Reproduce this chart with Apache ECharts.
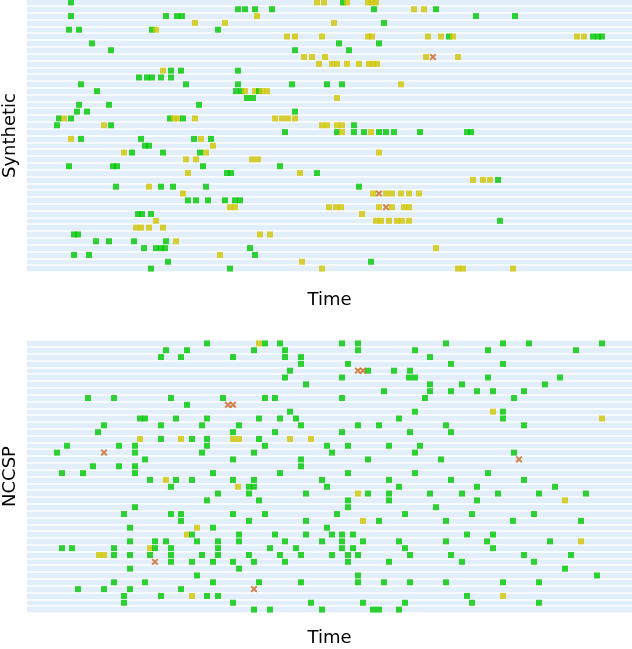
<!DOCTYPE html>
<html><head><meta charset="utf-8">
<script src="https://cdn.jsdelivr.net/npm/echarts@6/dist/echarts.min.js"></script>
<style>html,body{margin:0;padding:0;background:#fff}#c{width:632px;height:649px}</style>
</head><body><div id="c"></div>
<script>
const panelNames = ['Synthetic', 'NCCSP'];
const axisTitle = 'Time';
const rowCount = 40;

// Synthetic panel: one list of event times per row (row 0 at top)
const synGreen = [
  [44,316],[211,218,228,245,347,409],[44,139,150,155,449,488],[357],[42,52,125,191],
  [422,566,571,575],[65,312,352],[84,268,322],[],[],
  [144,154,211],[112,120,125,134,144],[54,159,211,265,300,315],[70,209,214,232],[220,226],
  [52,82,172],[50,60,268],[32,44,143,156],[30,84,327],[258,310,327,337,352,359,367,393,440,444],
  [54,114,167,184],[118,122],[105,136,173],[],[42,86,90,176,253],
  [200,204,290],[471],[89,134,146,179,332],[],[161,169,181,198,208,213],
  [],[111,115,124],[473],[],[47,51],
  [69,82,107,139],[117,129,134,138,223],[47,62,228],[141,344],[124,203]
];
const synYellow = [
  [290,297,320,341,345,349],[387,397],[230],[168,198,307],[129],
  [260,268,295,341,345,401,414,426,550,557],[],[],[277,285,298,399,431],[292,305,310,320,332,342,346,350],
  [136],[],[374],[218,228,235,240],[310],
  [],[],[37,147,151,168,248,255,261,268],[77,295,300,310,315],[315,344],
  [44,174],[186],[97,179,352],[159,169,225,231],[],
  [161,273],[446,456,463],[122],[156,346,359,365,374,382,392],[],
  [203,208,302,309,314,352,365,377,382],[335],[129,349,354,362,370,375,382],[109,114,122,136],[233,243],
  [149],[409],[193],[275],[295,431,436,486]
];
const synCross = [
  [],[],[],[],[],[],[],[],[406],[],
  [],[],[],[],[],[],[],[],[],[],
  [],[],[],[],[],[],[],[],[352],[],
  [359],[],[],[],[],[],[],[],[],[]
];

// NCCSP panel
const nccGreen = [
  [180,238,253,315,331,419,476,502,575],[139,160,227,258,331,388,461,549],[134,154,206,258,274,403],[274,321,424,476],[263,341,367,383],
  [258,315,382,388,461,533],[279,403,435,518],[357,403,424,450,466,497],[61,87,144,196,238,248,315,398,487],[160],
  [263,388,476],[113,118,149,180,232,253,269,372,476],[77,134,175,212,274,331,352,419,497],[71,206,248,315,383,424],[134,165,180,232],
  [40,92,108,180,238,300,321,362,393],[30,108,175,227,305,388,487],[118,206,274,341,414],[66,92,108,274],[35,56,108,186,253,321,388,461],
  [123,149,165,206,227,295,362,424,497],[144,222,227,300,372,450,528],[191,222,279,341,362,403,435,471,512,559],[180,232,321,362,450],[108,321,409],
  [97,144,154,206,238,310,378,445,507],[154,222,279,352,419,486,554],[103,186,300],[165,212,248,279,305,315,326,440,466],[103,128,139,170,191,212,258,295,315,336,372,419,460,523],
  [35,45,87,128,144,191,243,269,315,326,378,466],[87,103,123,144,175,191,222,253,274,305,321,331,383,424,497,544],[144,165,186,206,227,258,321,362,435,507],[103,212,538],[170,331,570],
  [87,118,186,232,274,331,357,383,419,476,512],[51,77,103,154],[97,134,180,191,440],[97,206,284,336,378,445,512],[227,243,295,346,352,372]
];
const nccYellow = [
  [232],[],[],[],[],[],[],[],[],[],
  [466],[575],[],[],[113,154,206,212,263,284],[],[],[],[],[],
  [139],[211],[331],[538],[],[],[336],[170],[160],[554],
  [123],[72,77],[],[],[],[],[],[165,476],[],[]
];
const nccCross = [
  [],[],[],[],[331,336],[],[],[],[],[201,206],
  [],[],[],[],[],[],[77],[492],[],[],
  [],[],[],[],[],[],[],[],[],[],
  [],[],[128],[],[],[],[227],[],[],[]
];

const GREEN = '#00c800', YELLOW = '#d2c600', CROSS = '#d2651e', STRIPE = '#e2eefa';
const X_PATH = 'path://M2,0 L5,3 L8,0 L10,2 L7,5 L10,8 L8,10 L5,7 L2,10 L0,8 L3,5 L0,2 Z';

function pts(rows) { const out = []; rows.forEach((xs, r) => xs.forEach(x => out.push([x, r]))); return out; }
function squares(g, y) {
  const a = pts(g).map(p => ({ value: p, itemStyle: { color: GREEN } }));
  const b = pts(y).map(p => ({ value: p, itemStyle: { color: YELLOW } }));
  return a.concat(b).sort((p, q) => p.value[0] - q.value[0]);
}
const cats = Array.from({ length: rowCount }, (_, i) => String(i));
const font = { fontFamily: 'DejaVu Sans', fontSize: 18, color: '#000' };
const grids = [
  { left: 27, right: 0, top: -1, height: 273 },
  { left: 27, right: 0, top: 340, height: 273 }
];
const nameGaps = [19, 16];
const panelData = [[synGreen, synYellow, synCross], [nccGreen, nccYellow, nccCross]];

const option = {
  animation: false,
  grid: grids.map(g => Object.assign({ show: true, backgroundColor: STRIPE, borderWidth: 0, containLabel: false, outerBoundsMode: 'none' }, g)),
  xAxis: [0, 1].map(i => ({
    type: 'value', gridIndex: i, min: 0, max: 605,
    name: axisTitle, nameLocation: 'middle', nameGap: nameGaps[i], nameTextStyle: font,
    axisLine: { show: false }, axisTick: { show: false }, axisLabel: { show: false }, splitLine: { show: false }
  })),
  yAxis: [0, 1].map(i => ({
    type: 'category', gridIndex: i, data: cats, inverse: true,
    name: panelNames[i], nameLocation: 'middle', nameRotate: 90, nameGap: 8, nameTextStyle: font,
    axisLine: { show: false }, axisTick: { show: false }, axisLabel: { show: false },
    splitLine: { show: true, interval: 0, lineStyle: { color: '#ffffff', width: 1.5 } }
  })),
  series: []
};
panelData.forEach((d, i) => {
  option.series.push({
    type: 'scatter', xAxisIndex: i, yAxisIndex: i, symbol: 'rect', symbolSize: 6,
    data: squares(d[0], d[1]), z: 3, silent: true
  });
  option.series.push({
    type: 'scatter', xAxisIndex: i, yAxisIndex: i, symbol: X_PATH, symbolSize: 7,
    itemStyle: { color: CROSS }, data: pts(d[2]), z: 4, silent: true
  });
});
echarts.init(document.getElementById('c'), null, { renderer: 'canvas' }).setOption(option);
</script>
</body></html>
